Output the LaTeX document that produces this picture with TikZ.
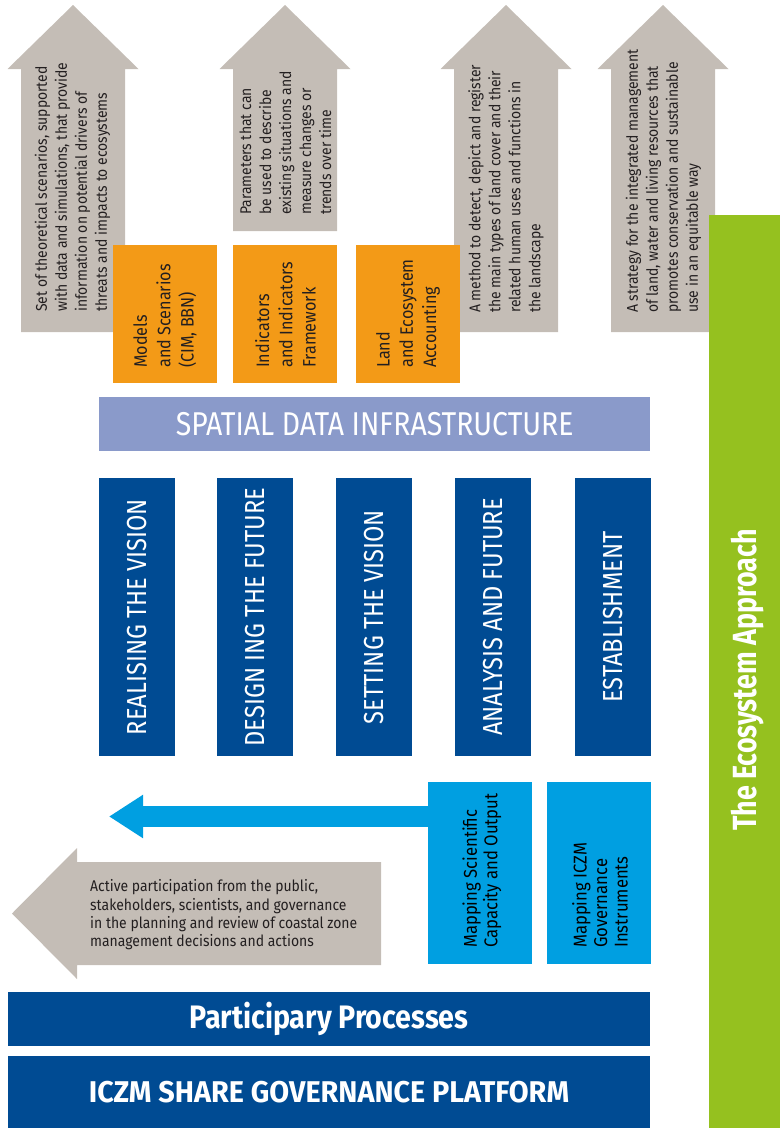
\documentclass[tikz,border=0pt]{standalone}
\usepackage{fontspec}
\usepackage{xcolor}
\usepackage{tikz}
\usetikzlibrary{calc,arrows.meta}
\setmainfont{Fira Sans}
\newfontfamily\bodyfont[FakeStretch=0.9]{Fira Sans}
\newfontfamily\capsfont[FakeStretch=0.86]{Fira Sans}
\newfontfamily\heavyfont[FakeStretch=0.88]{Fira Sans}
\newfontfamily\platfont[FakeStretch=0.96]{Fira Sans}
\newfontfamily\ecofont[FakeStretch=0.8]{Fira Sans}
\definecolor{greyarr}{HTML}{C4BDB6}
\definecolor{tool}{HTML}{F39A17}
\definecolor{sdi}{HTML}{8A9ACA}
\definecolor{navy}{HTML}{004B93}
\definecolor{sky}{HTML}{009FE1}
\definecolor{leaf}{HTML}{95C11F}
\definecolor{ink}{HTML}{231F20}
\tikzset{
  toptext/.style={text=ink, font=\bodyfont\fontsize{15.5}{20}\selectfont, align=left, inner sep=0pt, rotate=90, anchor=west},
  toolbox/.style={fill=tool, minimum width=104pt, minimum height=138pt, anchor=north west, inner sep=0pt},
  tooltext/.style={text=ink, font=\bodyfont\fontsize{18}{23.3}\selectfont, align=left, inner sep=0pt, rotate=90, anchor=west},
  sdibar/.style={fill=sdi, text=white, font=\capsfont\fontsize{33}{36}\selectfont, minimum width=551pt, minimum height=54pt, anchor=north west, inner sep=0pt},
  stagebox/.style={fill=navy, text=white, font=\capsfont\fontsize{27.5}{30}\selectfont, rotate=90, minimum width=278pt, minimum height=76pt, inner sep=0pt},
  mapbox/.style={fill=sky, minimum width=104pt, minimum height=182pt, anchor=north west, inner sep=0pt},
  maptext/.style={text=black, font=\bodyfont\fontsize{18.5}{20.5}\selectfont, align=left, inner sep=0pt, rotate=90, anchor=west},
  flowarrow/.style={draw=sky, line width=21pt, -{Triangle[length=34pt,width=41pt]}},
  navybar/.style={fill=navy, text=white, minimum width=642pt, inner sep=0pt}
}
\begin{document}
\begin{tikzpicture}[x=1pt,y=-1pt]
  \useasboundingbox (0,0) rectangle (780,1128);

  % grey arrows on top
  \foreach \xl/\yb in {21/332,233/231,454/332,611/332}
    \fill[greyarr] (\xl,\yb) -- (\xl,69) -- (\xl-13.5,69) -- (\xl+52,5)
      -- (\xl+117.5,69) -- (\xl+104,69) -- (\xl+104,\yb) -- cycle;
  \node[toptext] (drivers) at (72.5,312) {Set of theoretical scenarios, supported\\with data and simulations, that provide\\information on potential drivers of\\threats and impacts to ecosystems};
  \node[toptext] (params) at (285.5,215) {Parameters that can\\be used to describe\\existing situations and\\measure changes or\\trends over time};
  \node[toptext] (method) at (506,313) {A method to detect, depict and register\\the main types of land cover and their\\related human uses and functions in\\the landscape};
  \node[toptext] (strategy) at (663.5,313) {A strategy for the integrated management\\of land, water and living resources that\\promotes conservation and sustainable\\use in an equitable way};

  % tools
  \node[toolbox] (models) at (113,245) {};
  \node[tooltext] (modelstxt) at (165,368) {Models\\and Scenarios\\(CIM, BBN)};
  \node[toolbox] (indic) at (233,245) {};
  \node[tooltext] (indictxt) at (285.5,368) {Indicators\\and Indicators\\Framework};
  \node[toolbox] (landacc) at (356,245) {};
  \node[tooltext] (landacctxt) at (408,368) {Land\\and Ecosystem\\Accounting};

  \node[sdibar] (sdi) at (99,397) {SPATIAL DATA INFRASTRUCTURE};

  % stages
  \foreach \xl/\nm/\txt in {99/realise/REALISING THE VISION,217/design/DESIGN ING THE FUTURE,336/setting/SETTING THE VISION,455/analysis/ANALYSIS AND FUTURE,575/establish/ESTABLISHMENT}
    \node[stagebox] (\nm) at (\xl+38,617) {\txt};

  % mapping
  \node[mapbox] (mapsci) at (428,782) {};
  \node[maptext] (mapscitxt) at (482,948) {Mapping Scientific\\Capacity and Output};
  \node[mapbox] (mapgov) at (547,782) {};
  \node[maptext] (mapgovtxt) at (600,948) {Mapping ICZM\\Governance\\Instruments};
  \coordinate (bluetip) at (109,816.5);
  \draw[flowarrow] (bluetip -| mapsci.west) -- (bluetip);

  % participation arrow
  \fill[greyarr] (381,862) -- (77,862) -- (77,848) -- (12,913.5) -- (77,979) -- (77,965) -- (381,965) -- cycle;
  \node[text=ink, font=\bodyfont\fontsize{15.5}{18.3}\selectfont, align=left, inner sep=0pt, anchor=west] (partic) at (90,915) {Active participation from the public,\\stakeholders, scientists, and governance\\in the planning and review of coastal zone\\management decisions and actions};

  % platform
  \node[navybar, minimum height=54pt, font=\heavyfont\bfseries\fontsize{32.5}{36}\selectfont] (parti) at (329,1019) {Participary Processes};
  \node[navybar, minimum height=72pt, font=\platfont\bfseries\fontsize{30}{34}\selectfont] (platform) at (329,1092) {ICZM SHARE GOVERNANCE PLATFORM};

  % ecosystem approach
  \fill[leaf] (709,215) rectangle (780,1128);
  \node[text=white, font=\ecofont\bfseries\fontsize{33.5}{36}\selectfont, rotate=90, inner sep=0pt] (ecoapp) at (748,680) {The Ecosystem Approach};
\end{tikzpicture}
\end{document}
